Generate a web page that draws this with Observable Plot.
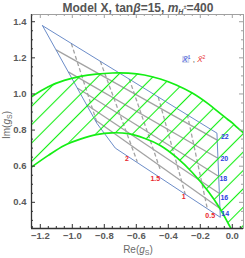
<!DOCTYPE html>
<html><head><meta charset="utf-8">
<script src="https://cdn.jsdelivr.net/npm/d3@7"></script>
<script src="https://cdn.jsdelivr.net/npm/@observablehq/plot@0.6"></script>
<style>
html,body{margin:0;padding:0;background:#fff;}
#chart svg{display:block;}
</style></head><body><div id="chart"></div>
<script>
// ---------------- data ----------------
const xDomain = [-1.255, 0.07];
const yDomain = [0.255, 1.44];
const xMajor = [-1.2, -1.0, -0.8, -0.6, -0.4, -0.2, 0.0];
const yMajor = [0.4, 0.6, 0.8, 1.0, 1.2, 1.4];

// allowed (green hatched) band: upper and lower boundary at common Re(gS)
const bandRe    = [-1.255, -1.15, -1.05, -0.95, -0.85, -0.75, -0.65, -0.55, -0.45, -0.35, -0.25, -0.15, -0.08, -0.03, 0.0, 0.03, 0.07];
const bandUpper = [0.985, 1.04, 1.075, 1.097, 1.11, 1.116, 1.115, 1.105, 1.083, 1.05, 1.005, 0.945, 0.895, 0.86, 0.84, 0.815, 0.785];
const bandLower = [0.595, 0.66, 0.715, 0.75, 0.775, 0.785, 0.78, 0.755, 0.715, 0.65, 0.565, 0.46, 0.37, 0.29, 0.24, 0.18, 0.10];

// blue parameter-region outline
const outlineRe = [-1.186, -0.846, -0.731, -0.075, -0.096, -1.186];
const outlineIm = [ 1.378,  0.837,  0.700,  0.317,  0.783,  1.378];

// solid grey contours (blue labels 22..14)
const blueVals  = ["22", "20", "18", "16", "14"];
const solidRe1  = [-1.101, -1.025, -0.969, -0.908, -0.856];
const solidIm1  = [ 1.244,  1.122,  1.033,  0.939,  0.856];
const solidRe2  = [-0.094, -0.090, -0.086, -0.083, -0.079];
const solidIm2  = [ 0.744,  0.644,  0.544,  0.450,  0.367];
const blueLabRe = [-0.047, -0.050, -0.056, -0.050, -0.044];
const blueLabIm = [ 0.761,  0.639,  0.528,  0.428,  0.339];

// dashed grey contours (red labels 2..0.5)
const dashRe1 = [-1.006, -0.825, -0.644, -0.463, -0.281];
const dashIm1 = [ 1.279,  1.181,  1.083,  0.983,  0.886];
const dashRe2 = [-0.844, -0.594, -0.450, -0.294, -0.156];
const dashIm2 = [ 0.836,  0.625,  0.580,  0.444,  0.364];
const redVals  = ["2", "1.5", "1", "0.5"];
const redLabRe = [-0.658, -0.481, -0.304, -0.138];
const redLabIm = [ 0.639,  0.533,  0.429,  0.328];

// legend anchor (data units)
const legendRe = -0.2875, legendIm = 1.189;

// ---------------- build tables ----------------
const band = bandRe.map((x, i) => ({x, hi: bandUpper[i], lo: bandLower[i]}));
const outline = outlineRe.map((x, i) => ({x, y: outlineIm[i]}));
const solid = blueVals.map((v, i) => ({v, x1: solidRe1[i], y1: solidIm1[i], x2: solidRe2[i], y2: solidIm2[i]}));
const dashed = dashRe1.map((x1, i) => ({x1, y1: dashIm1[i], x2: dashRe2[i], y2: dashIm2[i]}));
const blueLab = blueVals.map((t, i) => ({t, x: blueLabRe[i], y: blueLabIm[i]}));
const redLab = redVals.map((t, i) => ({t, x: redLabRe[i], y: redLabIm[i]}));

const W = 245, H = 258, mT = 14, mB = 30, mL = 31, mR = 2;
const fW = W - mL - mR, fH = H - mT - mB;
const xMinor = d3.range(-1.25, 0.0701, 0.05).map(v => +v.toFixed(2)).filter(v => !xMajor.some(m => Math.abs(m - v) < 1e-6));
const yMinor = d3.range(0.30, 1.4401, 0.05).map(v => +v.toFixed(2)).filter(v => !yMajor.some(m => Math.abs(m - v) < 1e-6));
const fmt = d => (d < 0 ? "\u2212" : "") + Math.abs(d).toFixed(1);
const green = "#14ee14";
const fontF = "Liberation Sans, Arial, sans-serif";

const chart = Plot.plot({
  width: W, height: H,
  marginTop: mT, marginBottom: mB, marginLeft: mL, marginRight: mR,
  x: {domain: xDomain},
  y: {domain: yDomain},
  style: {fontFamily: fontF, background: "#fff"},
  marks: [
    // grey contour grid
    Plot.link(solid, {x1: "x1", y1: "y1", x2: "x2", y2: "y2", stroke: "#a3a3a3", strokeWidth: 1.3}),
    Plot.link(dashed, {x1: "x1", y1: "y1", x2: "x2", y2: "y2", stroke: "#a3a3a3", strokeWidth: 1.3, strokeDasharray: "4,2.5"}),
    // blue outline
    Plot.line(outline, {x: "x", y: "y", stroke: "#5a7fc2", strokeWidth: 0.9}),
    // hatched band
    Plot.areaY(band, {x: "x", y1: "lo", y2: "hi", fill: "url(#hatch)", curve: "catmull-rom", clip: true}),
    Plot.line(band, {x: "x", y: "hi", stroke: green, strokeWidth: 1.7, curve: "catmull-rom", clip: true}),
    Plot.line(band, {x: "x", y: "lo", stroke: green, strokeWidth: 1.7, curve: "catmull-rom", clip: true}),
    // labels
    Plot.text(blueLab, {x: "x", y: "y", text: "t", fill: "#2a3fe0", fontSize: 7, fontWeight: "bold"}),
    Plot.text(redLab, {x: "x", y: "y", text: "t", fill: "#e8262c", fontSize: 7, fontWeight: "bold"}),
    // frame
    Plot.frame({stroke: "#a0a0a0", strokeWidth: 1}),
    Plot.ruleX([xDomain[0]], {stroke: "#333", strokeWidth: 1.3}),
    Plot.ruleY([yDomain[0]], {stroke: "#333", strokeWidth: 1.3}),
    // ticks (inward)
    Plot.ruleX(xMajor, {x: d => d, insetTop: fH - 4, stroke: "#333"}),
    Plot.ruleX(xMinor, {x: d => d, insetTop: fH - 2, stroke: "#333"}),
    Plot.ruleX(xMajor, {x: d => d, insetBottom: fH - 4, stroke: "#a0a0a0"}),
    Plot.ruleX(xMinor, {x: d => d, insetBottom: fH - 2, stroke: "#a0a0a0"}),
    Plot.ruleY(yMajor, {y: d => d, insetRight: fW - 4, stroke: "#333"}),
    Plot.ruleY(yMinor, {y: d => d, insetRight: fW - 2, stroke: "#333"}),
    Plot.ruleY(yMajor, {y: d => d, insetLeft: fW - 4, stroke: "#a0a0a0"}),
    Plot.ruleY(yMinor, {y: d => d, insetLeft: fW - 2, stroke: "#a0a0a0"}),
    // tick labels
    Plot.axisX(xMajor, {anchor: "bottom", tickSize: 0, tickPadding: 4, tickFormat: fmt, fontSize: 9.5, fontWeight: "bold", fill: "#5a5a5a", label: null}),
    Plot.axisY(yMajor, {anchor: "left", tickSize: 0, tickPadding: 5, tickFormat: fmt, fontSize: 9.5, fontWeight: "bold", fill: "#5a5a5a", label: null})
  ]
});

document.getElementById("chart").appendChild(chart);

const svg = d3.select(chart);
svg.insert("defs", ":first-child").html(
  '<pattern id="hatch" patternUnits="userSpaceOnUse" width="13" height="13" patternTransform="rotate(45)">' +
  '<line x1="6.5" y1="0" x2="6.5" y2="13" stroke="' + green + '" stroke-width="1.1"/></pattern>');

const sx = chart.scale("x"), sy = chart.scale("y");

// title
const t = svg.append("text").attr("x", mL + fW / 2 + 1).attr("y", 11.5).attr("text-anchor", "middle")
  .attr("font-family", fontF).attr("font-size", 12).attr("font-weight", "bold").attr("fill", "#555");
t.append("tspan").text("Model X, tan");
t.append("tspan").attr("font-style", "italic").text("\u03B2");
t.append("tspan").text("=15, ");
t.append("tspan").attr("font-style", "italic").text("m");
t.append("tspan").attr("font-size", 7).attr("dy", 2).attr("font-style", "italic").text("H");
t.append("tspan").attr("font-size", 5.5).attr("dy", -5).text("\u00B1");
t.append("tspan").attr("dy", 3).text("=400");

// x label
const xl = svg.append("text").attr("x", mL + fW / 2 + 1).attr("y", 253).attr("text-anchor", "middle")
  .attr("font-family", fontF).attr("font-size", 10).attr("fill", "#6a6a6a");
xl.append("tspan").text("Re(");
xl.append("tspan").attr("font-style", "italic").text("g");
xl.append("tspan").attr("font-size", 7).attr("dy", 2).text("S");
xl.append("tspan").attr("dy", -2).text(")");

// y label
const yl = svg.append("text").attr("transform", `translate(10,${mT + fH / 2 + 4}) rotate(-90)`).attr("text-anchor", "middle")
  .attr("font-family", fontF).attr("font-size", 10).attr("fill", "#6a6a6a");
yl.append("tspan").text("Im(");
yl.append("tspan").attr("font-style", "italic").text("g");
yl.append("tspan").attr("font-size", 7).attr("dy", 2).text("S");
yl.append("tspan").attr("dy", -2).text(")");

// legend
const lx = sx.apply(legendRe), ly = sy.apply(legendIm);
svg.append("rect").attr("x", lx - 3).attr("y", ly - 3).attr("width", 6).attr("height", 6)
  .attr("fill", "#e6eaf5").attr("stroke", "#c5cde3").attr("stroke-width", 0.8);
const lg = svg.append("text").attr("x", lx + 8).attr("y", ly + 3).attr("font-family", fontF).attr("font-size", 8);
lg.append("tspan").attr("fill", "#3a4ee0").attr("font-style", "italic").text("X\u0303");
lg.append("tspan").attr("fill", "#3a4ee0").attr("font-size", 5).attr("dy", -3).text("1");
lg.append("tspan").attr("fill", "#333").attr("dy", 3).text(" , ");
lg.append("tspan").attr("fill", "#e8262c").attr("font-style", "italic").text("X\u0303");
lg.append("tspan").attr("fill", "#e8262c").attr("font-size", 5).attr("dy", -3).text("2");
</script></body></html>
